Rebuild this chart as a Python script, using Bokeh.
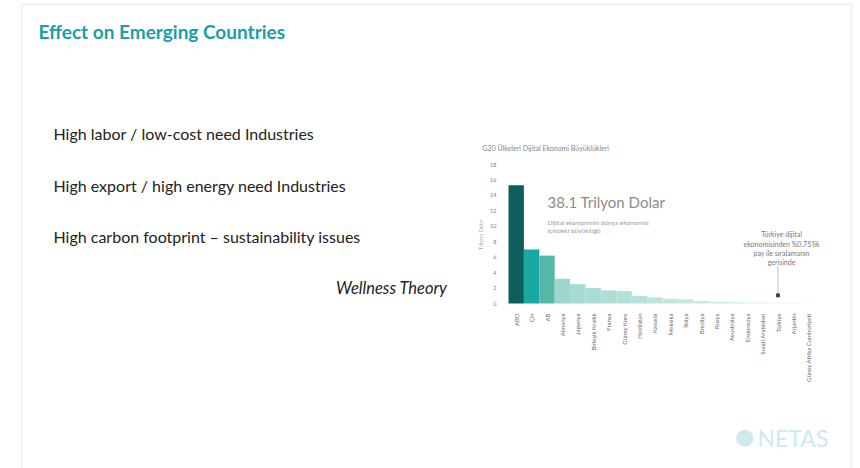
from bokeh.plotting import figure
from bokeh.models import Label, BoxAnnotation, Range1d, FixedTicker, LinearAxis
from bokeh.embed import file_html
from bokeh.resources import INLINE

# ---------------- data ----------------
slide_title = "Effect on Emerging Countries"
bullets = [
    "High labor / low-cost need Industries",
    "High export / high energy need Industries",
    "High carbon footprint \u2013 sustainability issues",
]
source_note = "Wellness Theory"
chart_title = "G20 \u00dclkeleri Dijital Ekonomi B\u00fcy\u00fckl\u00fckleri"
y_axis_title = "Trilyon Dolar"
headline = "38.1 Trilyon Dolar"
headline_sub = ["Dijital ekonominin d\u00fcnya ekonomisi", "i\u00e7indeki b\u00fcy\u00fckl\u00fc\u011f\u00fc"]
turkey_note = ["T\u00fcrkiye dijital", "ekonomisinden %0.75'lik", "pay ile s\u0131ralaman\u0131n", "gerisinde"]
countries = ["ABD", "\u00c7in", "AB", "Almanya", "Japonya", "Birle\u015fik Krall\u0131k",
             "Fransa", "G\u00fcney Kore", "Hindistan", "Kanada", "Meksika", "\u0130talya",
             "Brezilya", "Rusya", "Avustralya", "Endonezya", "Suudi Arabistan",
             "T\u00fcrkiye", "Arjantin", "G\u00fcney Afrika Cumhuriyeti"]
values = [15.3, 7.0, 6.2, 3.2, 2.5, 2.0, 1.7, 1.6, 1.0, 0.8, 0.6, 0.55,
          0.35, 0.25, 0.2, 0.15, 0.12, 0.1, 0.08, 0.05]
y_ticks = [0, 2, 4, 6, 8, 10, 12, 14, 16, 18]
highlight = "T\u00fcrkiye"
logo_text = "NETAS"

bar_colors = ["#0d5e5c", "#19a7a1", "#55b8a9", "#9ed5cc", "#a7dad2", "#abdcd4",
              "#afded6", "#b2e0d8", "#b7e2db", "#bce4dd", "#c0e6e0", "#c4e8e2",
              "#c8eae4", "#cdece7", "#d1eee9", "#d5f0eb", "#d9f2ee", "#ddf3f0",
              "#e1f5f2", "#e5f7f4"]

# ---------------- layout (page pixels) ----------------
W, H = 860, 468
CH_LEFT, CH_RIGHT = 508, 816      # bar area, page x
CH_ZERO, CH_TOP = 303, 164        # page y of value 0 and of value 18

n = len(countries)
xs = [i + 0.5 for i in range(n)]
kx = (CH_RIGHT - CH_LEFT) / n
ky = (CH_ZERO - CH_TOP) / y_ticks[-1]

p = figure(width=W, height=H, output_backend="svg", toolbar_location=None,
           x_range=Range1d(0, W), y_range=Range1d(H, 0),
           x_axis_location=None, y_axis_location=None,
           min_border=0, min_border_left=0, min_border_right=0,
           min_border_top=0, min_border_bottom=0)
p.outline_line_color = None
p.grid.visible = False
p.background_fill_color = "white"
p.border_fill_color = "white"

p.extra_x_ranges = {"bars": Range1d(-CH_LEFT / kx, n + (W - CH_RIGHT) / kx)}
p.extra_y_ranges = {"vals": Range1d(-(H - CH_ZERO) / ky, CH_ZERO / ky)}

p.vbar(x=xs, top=values, width=1.0, fill_color=bar_colors, line_color=None,
       x_range_name="bars", y_range_name="vals")

# arrow to Turkey
tx = xs[countries.index(highlight)]
p.segment(x0=[tx], y0=[4.8], x1=[tx], y1=[1.3], line_color="#666666",
          line_width=0.8, line_dash="1 1", x_range_name="bars", y_range_name="vals")
p.scatter(x=[tx], y=[1.05], marker="square", size=3, color="#444444",
          x_range_name="bars", y_range_name="vals")

# axes
ya = LinearAxis(x_range_name="bars", y_range_name="vals", fixed_location=0,
                ticker=FixedTicker(ticks=y_ticks))
ya.axis_line_color = None
ya.major_tick_line_color = None
ya.minor_tick_line_color = None
ya.major_label_text_font = "Lato"
ya.major_label_text_font_size = "5.5px"
ya.major_label_text_color = "#808080"
ya.major_label_standoff = 6
ya.axis_label = y_axis_title
ya.axis_label_text_font = "Lato"
ya.axis_label_text_font_size = "5.5px"
ya.axis_label_text_font_style = "normal"
ya.axis_label_text_color = "#aaaaaa"
ya.axis_label_standoff = 3
p.add_layout(ya, "left")

xa = LinearAxis(x_range_name="bars", y_range_name="vals", fixed_location=0,
                ticker=FixedTicker(ticks=xs),
                major_label_overrides={x: c for x, c in zip(xs, countries)})
xa.axis_line_color = None
xa.major_tick_line_color = None
xa.minor_tick_line_color = None
xa.major_label_orientation = 1.5708
xa.major_label_text_font = "Lato"
xa.major_label_text_font_size = "6px"
xa.major_label_text_color = "#666666"
xa.major_label_standoff = 4
p.add_layout(xa, "below")

def lab(text, x, y, size, color, font="Lato", style="normal", align="left",
        baseline="middle"):
    p.add_layout(Label(x=x, y=y, text=text,
                       text_font=font, text_font_size=size, text_color=color,
                       text_font_style=style, text_align=align,
                       text_baseline=baseline))

# slide frame
p.add_layout(BoxAnnotation(left=21, right=851, top=4, bottom=480,
                           fill_color=None, line_color="#c8c8c8", line_width=1.5))

lab(slide_title, 38, 31, "19px", "#1a9ea7", style="bold")
for i, b in enumerate(bullets):
    lab(b, 53, [133, 185, 236][i], "16px", "#222222")
lab(source_note, 447, 287, "16.5px", "#222222", style="italic", align="right")

lab(chart_title, 482, 147, "7px", "#888888")
lab(headline, 547, 201, "15px", "#8c8c8c")
for i, t in enumerate(headline_sub):
    lab(t, 547, [222, 230][i], "6.5px", "#999999")
for i, t in enumerate(turkey_note):
    lab(t, 781, [233, 243, 252, 261][i], "7px", "#777777", align="center")

lab("\u25cf", 744, 436, "22px", "#cdebee", font="DejaVu Sans", align="center")
lab(logo_text, 757, 437, "23px", "#cdebee", align="left")

open("out.html", "w").write(file_html(p, INLINE))
